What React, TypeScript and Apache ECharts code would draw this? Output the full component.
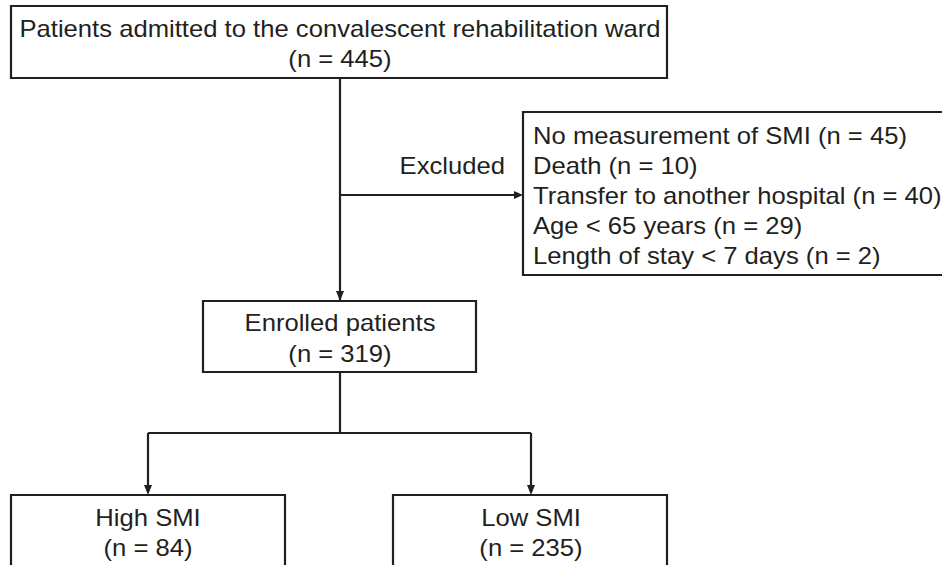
import React, { useEffect, useRef } from "react";
import * as echarts from "echarts";

const topLines = ["Patients admitted to the convalescent rehabilitation ward", "(n = 445)"];
const excludedLabel = "Excluded";
const exclusionReasons = [
  "No measurement of SMI (n = 45)",
  "Death (n = 10)",
  "Transfer to another hospital (n = 40)",
  "Age < 65 years (n = 29)",
  "Length of stay < 7 days (n = 2)",
];
const enrolledLines = ["Enrolled patients", "(n = 319)"];
const highLines = ["High SMI", "(n = 84)"];
const lowLines = ["Low SMI", "(n = 235)"];

const INK = "#231f20";
const FONT = "Liberation Sans, Arial, sans-serif";
const FS = 23;
const SX = 1.115;

function box(x: number, y: number, w: number, h: number) {
  return {
    type: "rect",
    shape: { x, y, width: w, height: h },
    style: { fill: "#fff", stroke: INK, lineWidth: 2.2 },
  };
}
function line(x1: number, y1: number, x2: number, y2: number) {
  return {
    type: "line",
    shape: { x1, y1, x2, y2 },
    style: { stroke: INK, lineWidth: 2.2 },
  };
}
function arrowDown(x: number, y: number) {
  return {
    type: "polygon",
    shape: { points: [[x - 4, y - 10], [x + 4, y - 10], [x, y]] },
    style: { fill: INK },
  };
}
function arrowRight(x: number, y: number) {
  return {
    type: "polygon",
    shape: { points: [[x - 9, y - 4], [x - 9, y + 4], [x, y]] },
    style: { fill: INK },
  };
}
function text(str: string, x: number, y: number, align: string = "center") {
  return {
    type: "text",
    x,
    y,
    scaleX: SX,
    style: {
      text: str,
      fill: INK,
      font: `${FS}px ${FONT}`,
      align,
      verticalAlign: "middle",
    },
  };
}

export default function App() {
  const ref = useRef<HTMLDivElement>(null);
  useEffect(() => {
    const chart = echarts.init(ref.current!, null, { renderer: "svg" });
    const cx = 340;
    const elements: any[] = [
      box(11, 6, 656, 72),
      text(topLines[0], cx, 29),
      text(topLines[1], cx, 59),
      line(cx, 78, cx, 300),
      arrowDown(cx, 301),
      line(cx, 195, 520, 195),
      arrowRight(523, 195),
      text(excludedLabel, 505, 166, "right"),
      box(523, 112, 440, 163),
      ...exclusionReasons.map((r, i) => text(r, 533, 136 + i * 30, "left")),
      box(203, 301, 273, 71),
      text(enrolledLines[0], cx, 323),
      text(enrolledLines[1], cx, 354),
      line(cx, 372, cx, 433),
      line(148, 433, 531, 433),
      line(148, 433, 148, 492),
      arrowDown(148, 495),
      line(531, 433, 531, 492),
      arrowDown(531, 495),
      box(11, 495, 274, 90),
      text(highLines[0], 148, 518),
      text(highLines[1], 148, 548),
      box(393, 495, 274, 90),
      text(lowLines[0], 531, 518),
      text(lowLines[1], 531, 548),
    ];
    chart.setOption({
      animation: false,
      backgroundColor: "#fff",
      graphic: { elements },
    });
    return () => chart.dispose();
  }, []);
  return (
    <div
      ref={ref}
      style={{ position: "fixed", left: 0, top: 0, width: 942, height: 565 }}
    />
  );
}
